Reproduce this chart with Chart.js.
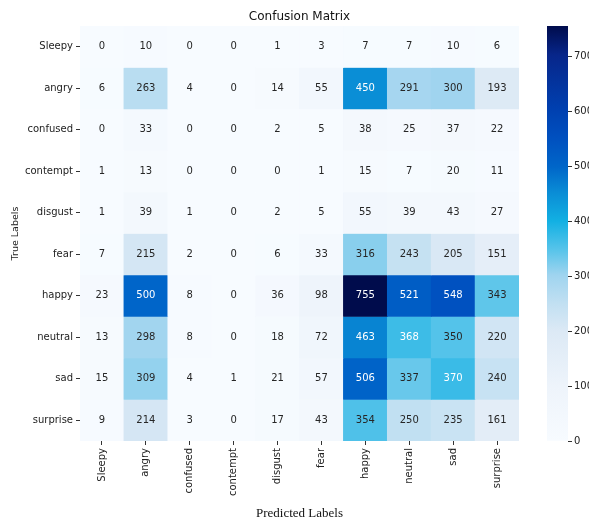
<!DOCTYPE html>
<html>
<head>
<meta charset="utf-8">
<script src="https://cdn.jsdelivr.net/npm/chart.js@4"></script>
<style>
  body { margin: 0; background: #fff; }
  #wrap { position: relative; width: 589px; height: 520px; overflow: hidden; background: #fff; }
  #matrix { position: absolute; left: 0; top: 0; }
  #cbar { position: absolute; left: 547px; top: 0; }
</style>
</head>
<body>
<div id="wrap">
  <canvas id="matrix" width="519" height="520"></canvas>
  <canvas id="cbar" width="80" height="520"></canvas>
</div>
<script>
// class names, true labels down the side, predicted along the bottom
const rowLabels = ['Sleepy', 'angry', 'confused', 'contempt', 'disgust', 'fear', 'happy', 'neutral', 'sad', 'surprise'];
const colLabels = ['Sleepy', 'angry', 'confused', 'contempt', 'disgust', 'fear', 'happy', 'neutral', 'sad', 'surprise'];

// counts[true][predicted]
const counts = [
  [0, 10, 0, 0, 1, 3, 7, 7, 10, 6],
  [6, 263, 4, 0, 14, 55, 450, 291, 300, 193],
  [0, 33, 0, 0, 2, 5, 38, 25, 37, 22],
  [1, 13, 0, 0, 0, 1, 15, 7, 20, 11],
  [1, 39, 1, 0, 2, 5, 55, 39, 43, 27],
  [7, 215, 2, 0, 6, 33, 316, 243, 205, 151],
  [23, 500, 8, 0, 36, 98, 755, 521, 548, 343],
  [13, 298, 8, 0, 18, 72, 463, 368, 350, 220],
  [15, 309, 4, 1, 21, 57, 506, 337, 370, 240],
  [9, 214, 3, 0, 17, 43, 354, 250, 235, 161]
];

const vmin = 0;
const vmax = 755;
const cbarTicks = [0, 100, 200, 300, 400, 500, 600, 700];

// blue colour ramp, value fraction -> colour
const ramp = [
  [0.00, '#f7fbff'],
  [0.13, '#eef4fb'],
  [0.265, '#dce9f5'],
  [0.33, '#c2e0f2'],
  [0.40, '#9fd4ef'],
  [0.46, '#58c4ea'],
  [0.53, '#12b0e3'],
  [0.60, '#0a8cd5'],
  [0.66, '#0066c9'],
  [0.73, '#0050bf'],
  [0.80, '#0040b0'],
  [0.93, '#07268a'],
  [1.00, '#000c4c']
];

function hexRgb(h) {
  return [1, 3, 5].map(i => parseInt(h.slice(i, i + 2), 16));
}

function cmap(v) {
  const t = Math.max(0, Math.min(1, (v - vmin) / (vmax - vmin)));
  for (let i = 1; i < ramp.length; i++) {
    if (t <= ramp[i][0]) {
      const [t0, c0] = ramp[i - 1];
      const [t1, c1] = ramp[i];
      const f = (t - t0) / (t1 - t0);
      const a = hexRgb(c0), b = hexRgb(c1);
      const rgb = a.map((x, k) => Math.round(x + (b[k] - x) * f));
      return `rgb(${rgb.join(',')})`;
    }
  }
  return ramp[ramp.length - 1][1];
}

Chart.defaults.font.family = '"DejaVu Sans", sans-serif';
Chart.defaults.font.size = 10;
Chart.defaults.color = '#222';

const tickGrid = { drawOnChartArea: false, drawTicks: true, tickLength: 4, color: '#333', lineWidth: 1 };

// value written in the middle of each cell
const cellText = {
  id: 'cellText',
  afterDatasetsDraw(chart) {
    const { ctx } = chart;
    ctx.save();
    ctx.font = '10px "DejaVu Sans"';
    ctx.textAlign = 'center';
    ctx.textBaseline = 'middle';
    chart.data.datasets.forEach((ds, r) => {
      chart.getDatasetMeta(r).data.forEach((bar, c) => {
        const v = counts[r][c];
        ctx.fillStyle = v > 360 ? '#ffffff' : '#262626';
        ctx.fillText(String(v), bar.x, (bar.y + bar.base) / 2);
      });
    });
    ctx.restore();
  }
};

// one dataset per true-label row, each cell a floating bar [r, r+1]
const rowSets = rowLabels.map((name, r) => ({
  label: name,
  data: colLabels.map(() => [r, r + 1]),
  backgroundColor: ctx => cmap(counts[r][ctx.dataIndex]),
  borderWidth: 0,
  grouped: false,
  barPercentage: 1,
  categoryPercentage: 1
}));

new Chart(document.getElementById('matrix'), {
  type: 'bar',
  data: { labels: colLabels, datasets: rowSets },
  plugins: [cellText],
  options: {
    responsive: false,
    animation: false,
    layout: { padding: 0 },
    plugins: {
      legend: { display: false },
      tooltip: { enabled: false },
      title: {
        display: true,
        text: 'Confusion Matrix',
        fullSize: false,
        color: '#111',
        font: { size: 12, weight: 'normal', lineHeight: 1.2 },
        padding: { top: 10, bottom: 1.6 }
      }
    },
    scales: {
      x: {
        type: 'category',
        offset: true,
        grid: { ...tickGrid, offset: false },
        border: { display: false },
        ticks: { minRotation: 90, maxRotation: 90, padding: 3, autoSkip: false },
        title: {
          display: true,
          text: 'Predicted Labels',
          color: '#111',
          font: { family: '"Liberation Serif", serif', size: 13, lineHeight: 1 },
          padding: { top: 0, bottom: 0 }
        },
        afterFit: s => { s.height = 79; }
      },
      y: {
        type: 'linear',
        min: 0,
        max: rowLabels.length,
        reverse: true,
        grid: tickGrid,
        border: { display: false },
        ticks: { padding: 3, autoSkip: false, callback: (v, i) => rowLabels[i] },
        afterBuildTicks: s => { s.ticks = rowLabels.map((_, i) => ({ value: i + 0.5 })); },
        title: {
          display: true,
          text: 'True Labels',
          color: '#222',
          font: { size: 9.5, lineHeight: 1.2 },
          padding: { top: 10, bottom: 0 }
        },
        afterFit: s => { s.width = 80; }
      }
    }
  }
});

// colour bar: a single floating bar filled with the ramp
new Chart(document.getElementById('cbar'), {
  type: 'bar',
  data: {
    labels: [''],
    datasets: [{
      data: [[vmin, vmax]],
      borderWidth: 0,
      barPercentage: 1,
      categoryPercentage: 1,
      backgroundColor: ctx => {
        const area = ctx.chart.chartArea;
        if (!area) return '#08306b';
        const y = ctx.chart.scales.y;
        const g = ctx.chart.ctx.createLinearGradient(0, y.getPixelForValue(vmin), 0, y.getPixelForValue(vmax));
        ramp.forEach(([t, c]) => g.addColorStop(t, c));
        return g;
      }
    }]
  },
  options: {
    responsive: false,
    animation: false,
    layout: { padding: { top: 26, bottom: 79, left: 0, right: 0 } },
    plugins: { legend: { display: false }, tooltip: { enabled: false } },
    scales: {
      x: { display: false },
      y: {
        position: 'right',
        min: vmin,
        max: vmax,
        grid: tickGrid,
        border: { display: false },
        ticks: { padding: 2 },
        afterBuildTicks: s => { s.ticks = cbarTicks.map(v => ({ value: v })); },
        afterFit: s => { s.width = 59; }
      }
    }
  }
});
</script>
</body>
</html>
